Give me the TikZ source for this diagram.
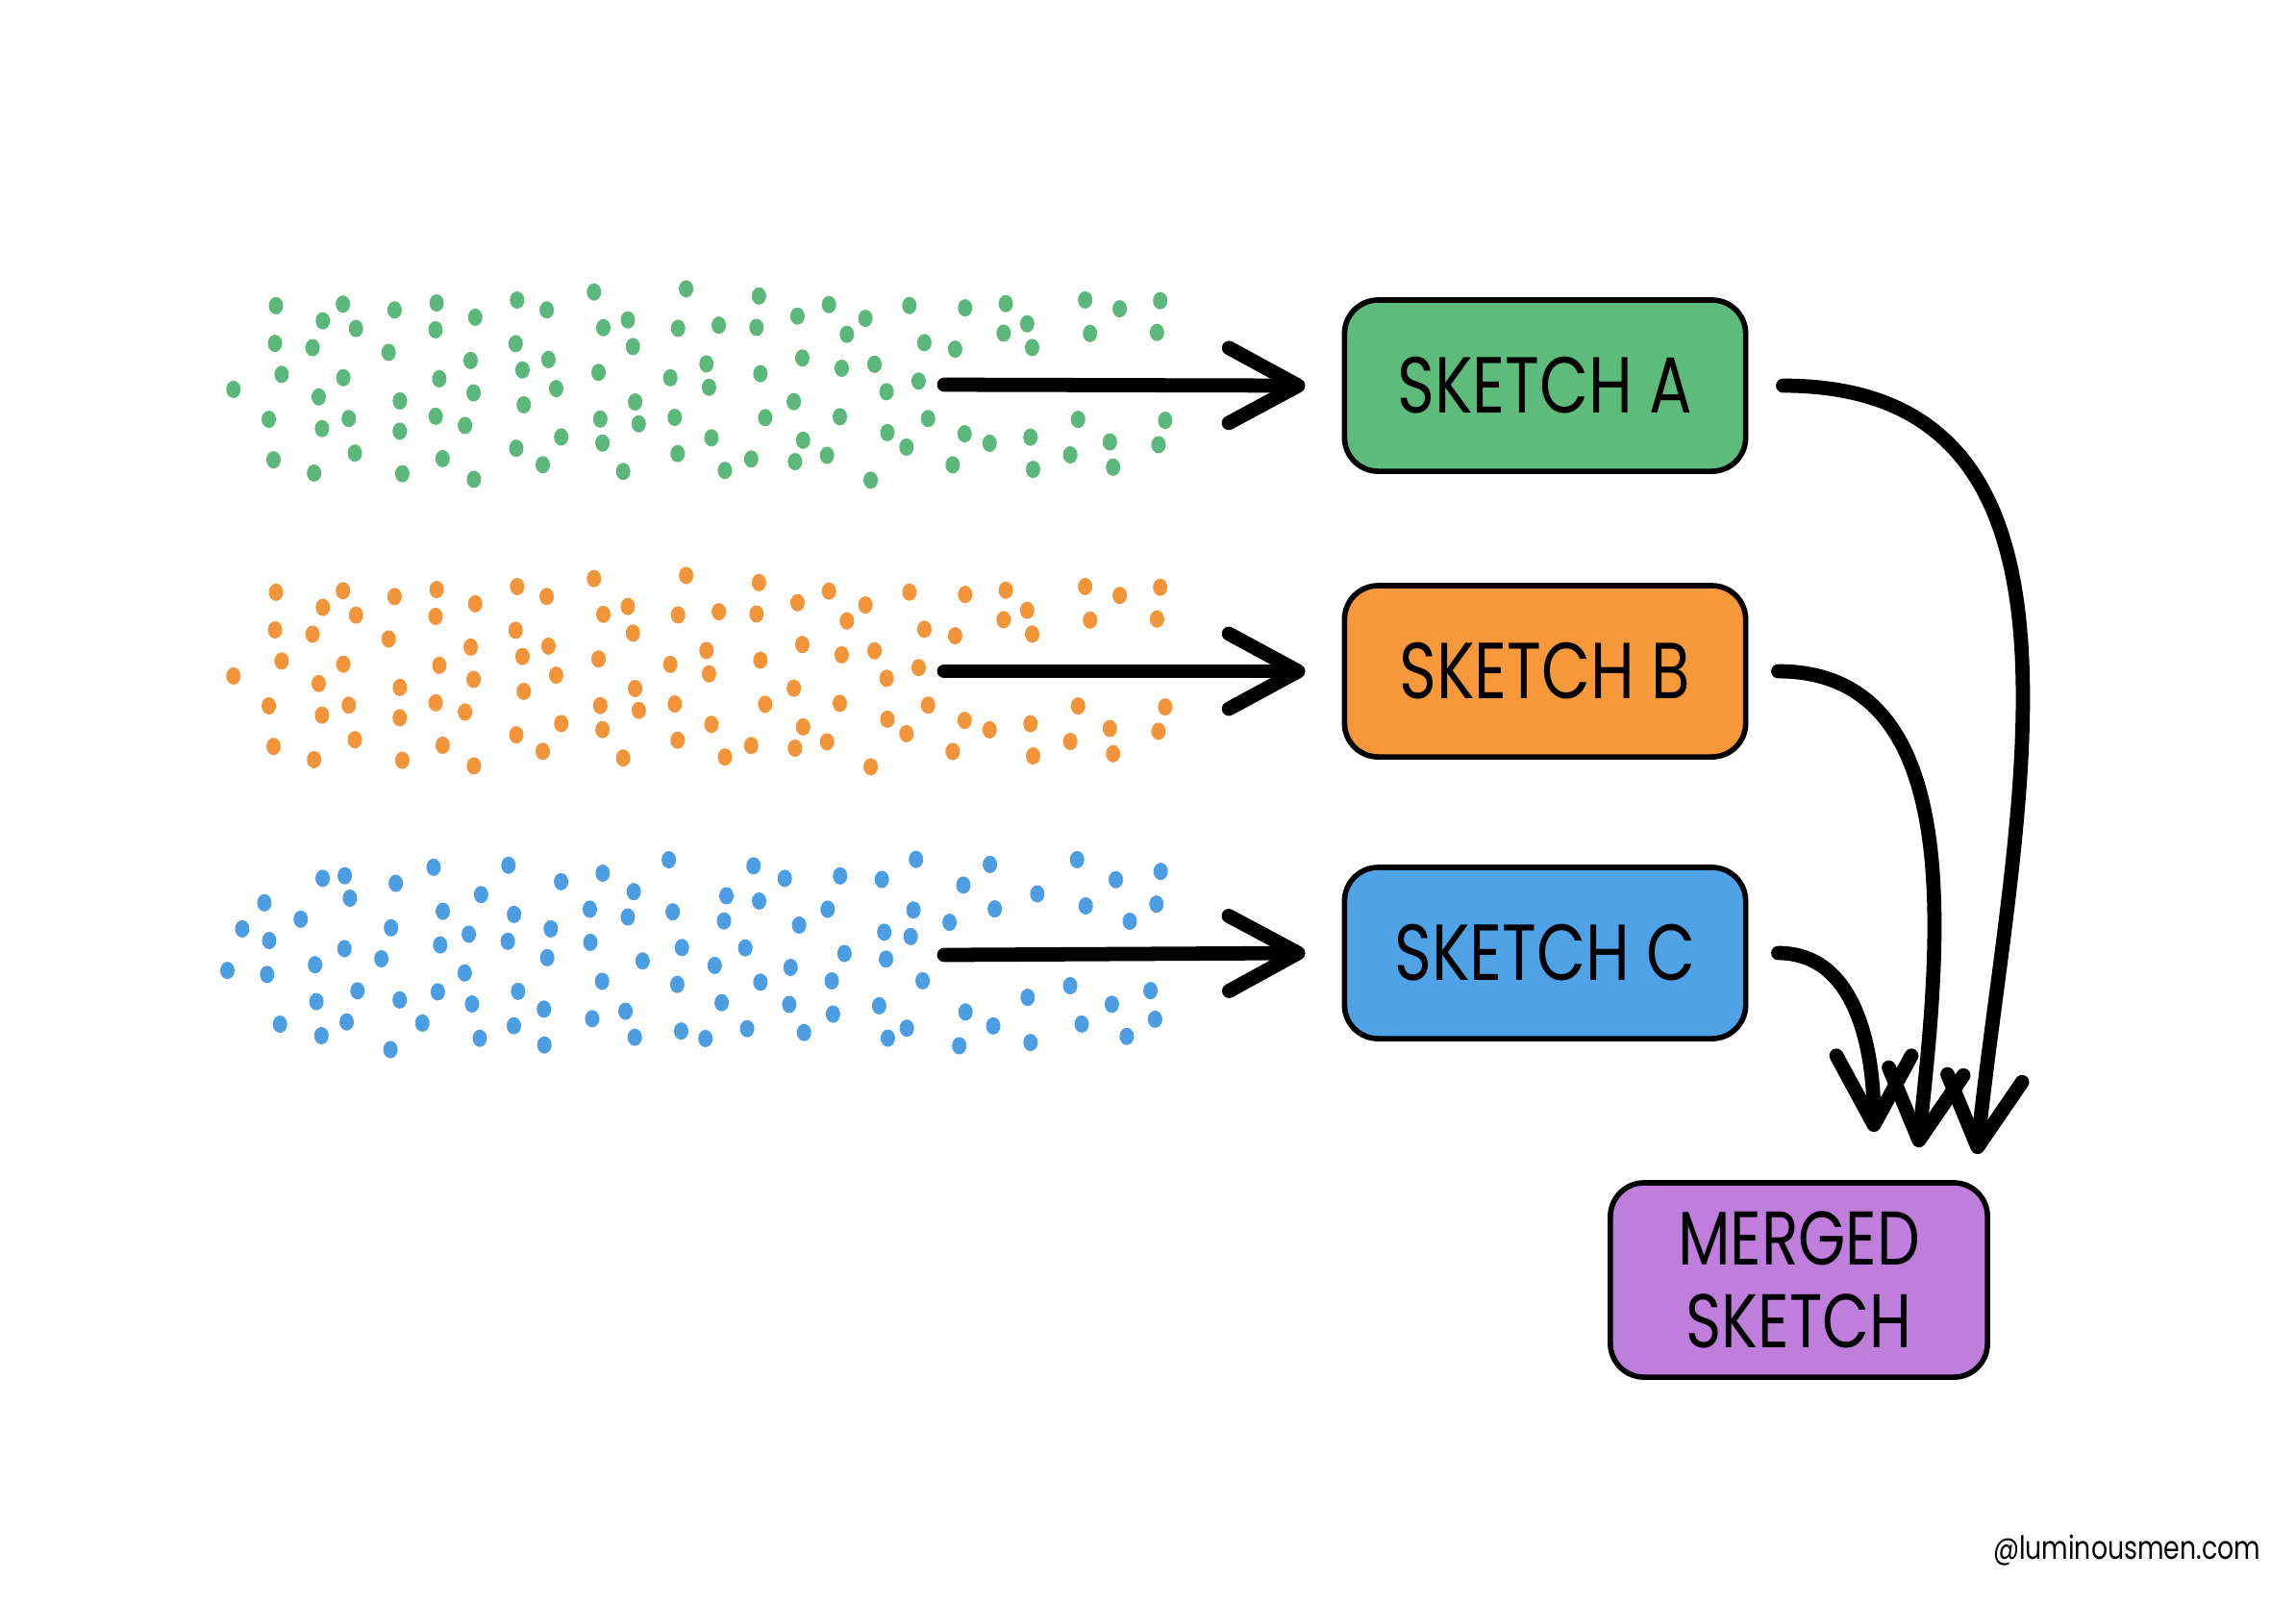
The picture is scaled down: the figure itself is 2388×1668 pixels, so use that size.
\documentclass[tikz,border=0pt]{standalone}
\usepackage{fontspec}
\newfontfamily\sketchfont[FakeStretch=0.8]{Poppins}
\usetikzlibrary{arrows.meta,calc,positioning}
\definecolor{sgreen}{HTML}{5DBB7B}
\definecolor{sorange}{HTML}{F7993A}
\definecolor{sblue}{HTML}{4FA2E6}
\definecolor{spurple}{HTML}{C07EDC}
\definecolor{dgreen}{HTML}{5CB87A}
\definecolor{dorange}{HTML}{F2953A}
\definecolor{dblue}{HTML}{4C9DE2}
\tikzset{
  sketchbox/.style={draw=black, line width=1.6pt, rounded corners=0.35cm,
    minimum width=4.17cm, minimum height=1.78cm, align=center,
    font=\sketchfont\fontsize{23.5}{21}\selectfont},
  flow/.style={line width=4.2pt, line cap=round,
    -{Straight Barb[length=0.72cm,width=0.78cm,round]}}
}
% a cloud of dots that narrows to the left
\newcommand{\dotcloud}[3]{%
  \pgfmathsetseed{#3}
  \foreach \i in {0,...,23}
    \foreach \j in {0,...,5}{
      \pgfmathsetmacro\dotx{240+42*\i+12*rand}
      \pgfmathsetmacro\doty{-100+40*\j+20*mod(\i,2)-10+10*rand}
      \pgfmathsetmacro\dothh{100*min(1,max(\dotx-225,0)/70)}
      \pgfmathtruncatemacro\dotkeep{(abs(\doty)<=\dothh)*or(\dotx<960,abs(\doty)>30)}
      \ifnum\dotkeep=1
        \fill[#1] (\dotx,#2+\doty) ellipse [x radius=0.075cm, y radius=0.09cm];
      \fi
    }
}
\begin{document}
\begin{tikzpicture}[x=0.01cm, y=-0.01cm]
  \useasboundingbox (0,0) rectangle (2388,1668);
  \dotcloud{dgreen}{400}{11}
  \dotcloud{dorange}{698}{11}
  \dotcloud{dblue}{993}{27}
  \begin{scope}[every node/.style={sketchbox}]
    \node (sa) [fill=sgreen] at (1607,401) {SKETCH A};
    \node (sb) [fill=sorange] at (1607,698) {SKETCH B};
    \node (sc) [fill=sblue] at (1607,991) {SKETCH C};
    \node (m) [fill=spurple, minimum width=3.92cm, minimum height=2.02cm,
      font=\sketchfont\fontsize{22.5}{24.5}\selectfont] at (1871,1331) {MERGED\\SKETCH};
  \end{scope}
  \coordinate (ga) at (982,400);
  \coordinate (gb) at (982,698);
  \coordinate (gc) at (982,993);
  \begin{scope}[flow]
    \draw (ga) -- ([xshift=-0.38cm]sa.west);
    \draw (gb) -- ([xshift=-0.38cm]sb.west);
    \draw (gc) -- ([xshift=-0.38cm]sc.west);
    \draw ([xshift=0.36cm]sa.east) to[out=0, in=84, looseness=1.1] ($(m.north)+(185,-27)$);
    \draw ([xshift=0.31cm]sb.east) to[out=0, in=84] ($(m.north)+(124,-34)$);
    \draw ([xshift=0.31cm]sc.east) to[out=0, in=90] ($(m.north)+(78,-50)$);
  \end{scope}
  \node (credit) [font=\sketchfont\fontsize{9.5}{11}\selectfont] at (2212,1612) {@luminousmen.com};
\end{tikzpicture}
\end{document}
